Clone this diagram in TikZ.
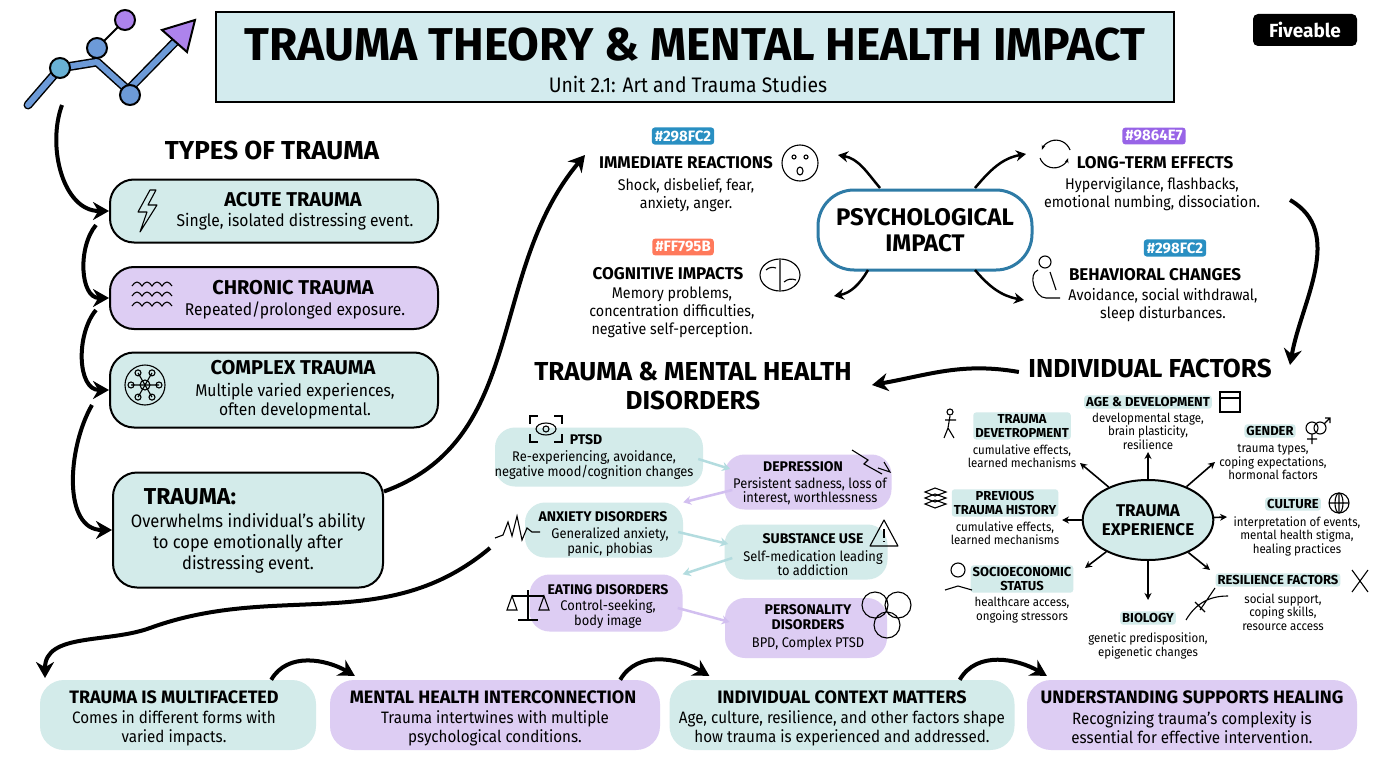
\documentclass[tikz,border=0pt]{standalone}
\usepackage{fontspec}
\setmainfont{Fira Sans}[FakeStretch=0.92]
\newfontfamily\headfont{Fira Sans}
\usetikzlibrary{arrows.meta,positioning,shapes.geometric,calc}
\definecolor{tealbg}{HTML}{D3EBEA}
\definecolor{lilacbg}{HTML}{DDCDF3}
\definecolor{titlebg}{HTML}{D3EBEE}
\definecolor{ringblue}{HTML}{2E7BA6}
\definecolor{tagblue}{HTML}{298FC2}
\definecolor{tagorange}{HTML}{FF795B}
\definecolor{tagpurple}{HTML}{9864E7}
\definecolor{paleteal}{HTML}{B3DCDF}
\definecolor{palelilac}{HTML}{D2BFF0}
\definecolor{logoblue}{HTML}{6C9AD8}
\tikzset{
  typebox/.style={draw=black, line width=2pt, rounded corners=24pt},
  endbox/.style={rounded corners=24pt},
  disbox/.style={rounded corners=20pt},
  tag/.style={fill=#1, text=white, rounded corners=3pt, inner sep=3pt,
              font=\headfont\bfseries\fontsize{15}{15}\selectfont},
  head/.style={font=\headfont\bfseries\fontsize{20}{20}\selectfont, align=center},
  endhead/.style={font=\headfont\bfseries\fontsize{18}{18}\selectfont, align=center},
  sub/.style={font=\fontsize{17}{19}\selectfont, align=center},
  endsub/.style={font=\fontsize{16.5}{19}\selectfont, align=center},
  phead/.style={font=\headfont\bfseries\fontsize{17}{17}\selectfont},
  psub/.style={font=\fontsize{15.5}{18}\selectfont, align=center},
  dhead/.style={font=\headfont\bfseries\fontsize{14}{15}\selectfont, align=center},
  dsub/.style={font=\fontsize{14}{14.5}\selectfont, align=center},
  fhead/.style={font=\headfont\bfseries\fontsize{13}{14}\selectfont, align=center,
                fill=tealbg, rounded corners=3pt, inner sep=2pt},
  fsub/.style={font=\fontsize{12.5}{13.5}\selectfont, align=center},
  bigarrow/.style={-{Stealth[length=16pt,width=18pt]}, line width=4pt},
  midarrow/.style={-{Stealth[length=10pt,width=11pt]}, line width=2.5pt},
  spoke/.style={-{Stealth[length=7pt,width=7pt]}, line width=1.6pt},
  softarrow/.style={-{Stealth[length=8pt,width=9pt]}, line width=2.5pt, draw=#1},
  icon/.style={line width=1.1pt}
}
\begin{document}
\begin{tikzpicture}[x=1pt,y=-1pt]
\useasboundingbox (0,0) rectangle (1376,768);
\fill[white] (0,0) rectangle (1376,768);

% logo
\draw[line width=9pt, line cap=round, line join=round, draw=black]
  (28,105) -- (60,68) -- (97,62) -- (128,90) -- (175,42);
\draw[line width=6pt, line cap=round, line join=round, draw=logoblue]
  (28,105) -- (60,68) -- (97,62) -- (128,90) -- (175,42);
\fill[draw=black, line width=2pt, fill=tagpurple!80] (162,30) -- (195,20) -- (187,52) -- cycle;
\draw[line width=2pt] (97,48) -- (125,20);
\foreach \cx/\cy/\cc in {60/68/tagblue!70, 97/48/logoblue, 125/20/tagpurple!80, 130/95/logoblue}
  \draw[fill=\cc, line width=2pt] (\cx,\cy) circle (10pt);

% header
\node[draw=black, line width=2.5pt, fill=titlebg, minimum width=958pt, minimum height=90pt]
  (title) at (695,57) {};
\node[font=\headfont\bfseries\fontsize{46}{46}\selectfont] (titletext) at (695,45)
  {TRAUMA THEORY \& MENTAL HEALTH IMPACT};
\node[font=\fontsize{21}{21}\selectfont] (subtitle) at (688,84) {Unit 2.1: Art and Trauma Studies};
\node[fill=black, text=white, rounded corners=5pt, font=\headfont\bfseries\fontsize{19}{19}\selectfont,
      minimum width=104pt, minimum height=32pt] (logo) at (1305,30) {Fiveable};

% types of trauma
\node[font=\headfont\bfseries\fontsize{26}{26}\selectfont] (types) at (272,150) {TYPES OF TRAUMA};
\node[typebox, fill=tealbg, minimum width=328pt, minimum height=63pt] (acute) at (274,211) {};
\node[head] at (293,200) {ACUTE TRAUMA};
\node[sub] at (295,222) {Single, isolated distressing event.};
\draw[icon, line join=round] (150,190) -- (138,212) -- (147,212) -- (140,232) -- (157,205) -- (148,205) -- (156,190) -- cycle;

\node[typebox, fill=lilacbg, minimum width=328pt, minimum height=62pt] (chronic) at (274,298) {};
\node[head] at (293,288) {CHRONIC TRAUMA};
\node[sub] at (295,310) {Repeated/prolonged exposure.};
\foreach \wy in {286,296,306}
  \draw[icon] (132,\wy) sin (137,\wy-4) cos (142,\wy) sin (147,\wy-4) cos (152,\wy) sin (157,\wy-4) cos (162,\wy) sin (167,\wy-4) cos (172,\wy);

\node[typebox, fill=tealbg, minimum width=328pt, minimum height=75pt] (complex) at (274,390) {};
\node[head] at (293,368) {COMPLEX TRAUMA};
\node[sub] at (295,401) {Multiple varied experiences,\\often developmental.};
\draw[icon] (145,385) circle (20pt);
\foreach \a in {0,60,...,300}
  \draw[icon] (145,385) -- ++(\a:14pt) circle (3pt);
\draw[icon] (145,385) circle (5pt);

\node[typebox, fill=tealbg, minimum width=270pt, minimum height=115pt] (trauma) at (248,530) {};
\node[font=\headfont\bfseries\fontsize{23}{23}\selectfont] at (190,497) {TRAUMA:};
\node[font=\fontsize{18}{21}\selectfont, align=center] at (248,543)
  {Overwhelms individual's ability\\to cope emotionally after\\distressing event.};

% left flow
\draw[bigarrow] (62,105) to[out=250,in=180] (acute.west);
\draw[bigarrow] (96,225) to[out=230,in=180] (chronic.west);
\draw[bigarrow] (96,310) to[out=230,in=180] (complex.west);
\draw[bigarrow] (92,405) to[out=240,in=180] (trauma.west);
\draw[bigarrow] (trauma.north east) ++(0,20) to[out=20,in=230] (585,155);
\draw[bigarrow] (490,548) to[out=220,in=20] (150,628) to[out=200,in=90] (45,678);

% psychological impact
\node[draw=ringblue, line width=3pt, fill=white, rounded corners=36pt,
      minimum width=214pt, minimum height=80pt, font=\headfont\bfseries\fontsize{24}{26}\selectfont,
      align=center] (psych) at (925,230) {PSYCHOLOGICAL\\IMPACT};

\node[tag=tagblue] (tag1) at (683,136) {\#298FC2};
\node[phead] (imm) at (686,163) {IMMEDIATE REACTIONS};
\node[psub] at (686,195) {Shock, disbelief, fear,\\anxiety, anger.};
\draw[icon] (800,163) circle (18pt);
\draw[icon] (794,157) circle (2pt) (806,157) circle (2pt);
\draw[icon] (800,171) ellipse (3pt and 4pt);

\node[tag=tagorange] (tag2) at (683,247) {\#FF795B};
\node[phead] (cog) at (668,274) {COGNITIVE IMPACTS};
\node[psub] at (672,312) {Memory problems,\\concentration difficulties,\\negative self-perception.};
\draw[icon] (780,275) ellipse (20pt and 16pt);
\draw[icon] (780,260) -- (780,290) (766,270) to[bend left] (776,268) (784,282) to[bend left] (796,280);

\node[tag=tagpurple] (tag3) at (1154,136) {\#9864E7};
\node[phead] (long) at (1155,163) {LONG-TERM EFFECTS};
\node[psub] at (1152,194) {Hypervigilance, flashbacks,\\emotional numbing, dissociation.};
\draw[icon, -{Stealth[length=5pt]}] (1040,158) arc (200:340:15pt);
\draw[icon, -{Stealth[length=5pt]}] (1070,150) arc (20:160:15pt);

\node[tag=tagblue] (tag4) at (1175,248) {\#298FC2};
\node[phead] (behav) at (1155,275) {BEHAVIORAL CHANGES};
\node[psub] at (1163,305) {Avoidance, social withdrawal,\\sleep disturbances.};
\draw[icon] (1045,262) circle (6pt);
\draw[icon] (1038,270) to[out=200,in=180] (1046,298) -- (1060,298) (1050,272) -- (1056,290);

\draw[midarrow] (880,188) to[out=130,in=-10] (838,155);
\draw[midarrow] (868,270) to[out=240,in=10] (834,296);
\draw[midarrow] (975,188) to[out=50,in=190] (1026,154);
\draw[midarrow] (975,270) to[out=-50,in=170] (1024,300);
\draw[bigarrow] (1290,200) to[out=-30,in=80] (1290,365);

% disorders
\node[font=\headfont\bfseries\fontsize{26}{29}\selectfont, align=center] (disorders) at (693,386)
  {TRAUMA \& MENTAL HEALTH\\DISORDERS};
\node[font=\headfont\bfseries\fontsize{26}{26}\selectfont] (factors) at (1150,368) {INDIVIDUAL FACTORS};
\draw[bigarrow] (factors.west) ++(-6,4) to[out=170,in=10] (872,385);

\node[disbox, fill=tealbg, minimum width=208pt, minimum height=59pt] (ptsd) at (599,457) {};
\node[dhead] at (586,440) {PTSD};
\node[dsub] at (594,465) {Re-experiencing, avoidance,\\negative mood/cognition changes};
\draw[icon] (530,424) -- (530,416) -- (538,416) (554,416) -- (562,416) -- (562,424)
  (530,434) -- (530,442) -- (538,442) (554,442) -- (562,442) -- (562,434);
\draw[icon] (546,429) ellipse (10pt and 6pt) (546,429) circle (3pt);

\node[disbox, fill=lilacbg, minimum width=167pt, minimum height=55pt] (dep) at (808,482) {};
\node[dhead] at (803,467) {DEPRESSION};
\node[dsub] at (810,491) {Persistent sadness, loss of\\interest, worthlessness};
\draw[icon] (852,450) -- (868,460) -- (864,464) -- (882,474) (878,468) -- (890,472) -- (884,462);

\node[disbox, fill=tealbg, minimum width=158pt, minimum height=55pt] (anx) at (604,530) {};
\node[dhead] at (603,517) {ANXIETY DISORDERS};
\node[dsub] at (610,542) {Generalized anxiety,\\panic, phobias};
\draw[icon] (495,538) -- (503,535) -- (508,522) -- (512,536) -- (517,516) -- (522,540) -- (527,528) -- (532,532) -- (540,532);

\node[disbox, fill=tealbg, minimum width=163pt, minimum height=55pt] (sub) at (806,552) {};
\node[dhead] at (813,539) {SUBSTANCE USE};
\node[dsub] at (813,563) {Self-medication leading\\to addiction};
\draw[icon, line join=round] (884,520) -- (898,546) -- (870,546) -- cycle;
\draw[icon] (884,529) -- (884,538) (884,541) -- (884,542);

\node[disbox, fill=lilacbg, minimum width=153pt, minimum height=57pt] (eat) at (606,603) {};
\node[dhead] at (608,590) {EATING DISORDERS};
\node[dsub] at (608,614) {Control-seeking,\\body image};
\draw[icon] (528,590) -- (528,620) (518,620) -- (538,620) (512,596) -- (544,596);
\draw[icon] (512,596) -- (507,610) -- (517,610) -- cycle (544,596) -- (539,610) -- (549,610) -- cycle;

\node[disbox, fill=lilacbg, minimum width=162pt, minimum height=60pt] (pers) at (806,628) {};
\node[dhead] at (808,617) {PERSONALITY\\DISORDERS};
\node[dsub] at (808,644) {BPD, Complex PTSD};
\draw[icon] (875,605) circle (13pt) (898,605) circle (13pt) (887,625) circle (13pt);

\draw[softarrow=paleteal] (ptsd.east) ++(-5,2) -- ++(32,10);
\draw[softarrow=palelilac] (dep.west) ++(8,8) -- (anx.north east);
\draw[softarrow=paleteal] (anx.east) ++(-5,2) -- ++(50,12);
\draw[softarrow=paleteal] (sub.west) ++(8,6) -- (eat.north east);
\draw[softarrow=palelilac] (eat.east) ++(-5,5) -- ++(52,14);

% trauma experience
\node[ellipse, draw=black, line width=2pt, fill=tealbg, minimum width=114pt, minimum height=80pt,
      inner sep=0pt, font=\headfont\bfseries\fontsize{17}{19}\selectfont, align=center]
  (exp) at (1148,520) {TRAUMA\\EXPERIENCE};

\node[fhead] (devt) at (1022,426) {TRAUMA\\DEVETROPMENT};
\node[fsub] at (1022,456) {cumulative effects,\\learned mechanisms};
\node[fhead] (age) at (1148,402) {AGE \& DEVELOPMENT};
\node[fsub] at (1148,431) {developmental stage,\\brain plasticity,\\resilience};
\node[fhead] (gender) at (1270,431) {GENDER};
\node[fsub] at (1273,462) {trauma types,\\coping expectations,\\hormonal factors};
\node[fhead] (prev) at (1005,503) {PREVIOUS\\TRAUMA HISTORY};
\node[fsub] at (1005,533) {cumulative effects,\\learned mechanisms};
\node[fhead] (culture) at (1293,504) {CULTURE};
\node[fsub] at (1297,536) {interpretation of events,\\mental health stigma,\\healing practices};
\node[fhead] (socio) at (1022,579) {SOCIOECONOMIC\\STATUS};
\node[fsub] at (1022,610) {healthcare access,\\ongoing stressors};
\node[fhead] (resil) at (1278,580) {RESILIENCE FACTORS};
\node[fsub] at (1283,612) {social support,\\coping skills,\\resource access};
\node[fhead] (bio) at (1148,618) {BIOLOGY};
\node[fsub] at (1148,646) {genetic predisposition,\\epigenetic changes};

\coordinate (pDevt) at (1080,463);
\coordinate (pAge) at (1148,452);
\coordinate (pGender) at (1215,462);
\coordinate (pPrev) at (1062,520);
\coordinate (pCult) at (1227,517);
\coordinate (pSocio) at (1085,568);
\coordinate (pResil) at (1210,570);
\coordinate (pBio) at (1148,600);
\foreach \p in {pDevt,pAge,pGender,pPrev,pCult,pSocio,pResil,pBio}
  \draw[spoke] (exp) -- (\p);

% factor icons
\draw[icon] (1220,392) rectangle (1240,412) (1220,398) -- (1240,398);
\draw[icon] (1312,428) circle (6pt) (1312,434) -- (1312,444) (1307,439) -- (1317,439);
\draw[icon] (1320,428) circle (6pt) (1324,424) -- (1330,418) (1325,418) -- (1330,418) -- (1330,423);
\draw[icon] (1339,503) circle (10pt) (1329,503) -- (1349,503) (1339,493) -- (1339,513);
\draw[icon] (1339,503) ellipse (4pt and 10pt);
\foreach \sy in {492,498,504}
  \draw[icon] (925,\sy) -- (935,\sy-4) -- (946,\sy) -- (935,\sy+4) -- cycle;
\draw[icon] (958,570) circle (7pt) (945,590) -- (958,586) -- (972,590);
\draw[icon] (1195,602) -- (1205,612) (1215,588) -- (1200,610) (1186,620) to[bend left] (1228,596);
\draw[icon] (1352,570) -- (1368,592) (1368,570) -- (1352,592);
\draw[icon] (950,412) circle (3pt) (950,416) -- (948,428) -- (944,438) (948,428) -- (954,438) (945,420) -- (956,420);

% bottom takeaways
\node[endbox, fill=tealbg, minimum width=276pt, minimum height=70pt] (multi) at (178,715) {};
\node[endhead] at (174,697) {TRAUMA IS MULTIFACETED};
\node[endsub] at (174,728) {Comes in different forms with\\varied impacts.};
\node[endbox, fill=lilacbg, minimum width=330pt, minimum height=70pt] (inter) at (495,715) {};
\node[endhead] at (493,697) {MENTAL HEALTH INTERCONNECTION};
\node[endsub] at (495,728) {Trauma intertwines with multiple\\psychological conditions.};
\node[endbox, fill=tealbg, minimum width=345pt, minimum height=70pt] (context) at (842,715) {};
\node[endhead] at (842,697) {INDIVIDUAL CONTEXT MATTERS};
\node[endsub] at (842,728) {Age, culture, resilience, and other factors shape\\how trauma is experienced and addressed.};
\node[endbox, fill=lilacbg, minimum width=330pt, minimum height=70pt] (heal) at (1192,715) {};
\node[endhead] at (1192,697) {UNDERSTANDING SUPPORTS HEALING};
\node[endsub] at (1192,728) {Recognizing trauma's complexity is\\essential for effective intervention.};

\draw[bigarrow] (multi.north east) ++(-45,0) to[out=60,in=150] ($(inter.north west)+(25,-4)$);
\draw[bigarrow] (inter.north east) ++(-40,0) to[out=60,in=150] ($(context.north west)+(40,-4)$);
\draw[bigarrow] (context.north east) ++(-55,0) to[out=60,in=150] ($(heal.north west)+(20,-4)$);
\end{tikzpicture}
\end{document}
